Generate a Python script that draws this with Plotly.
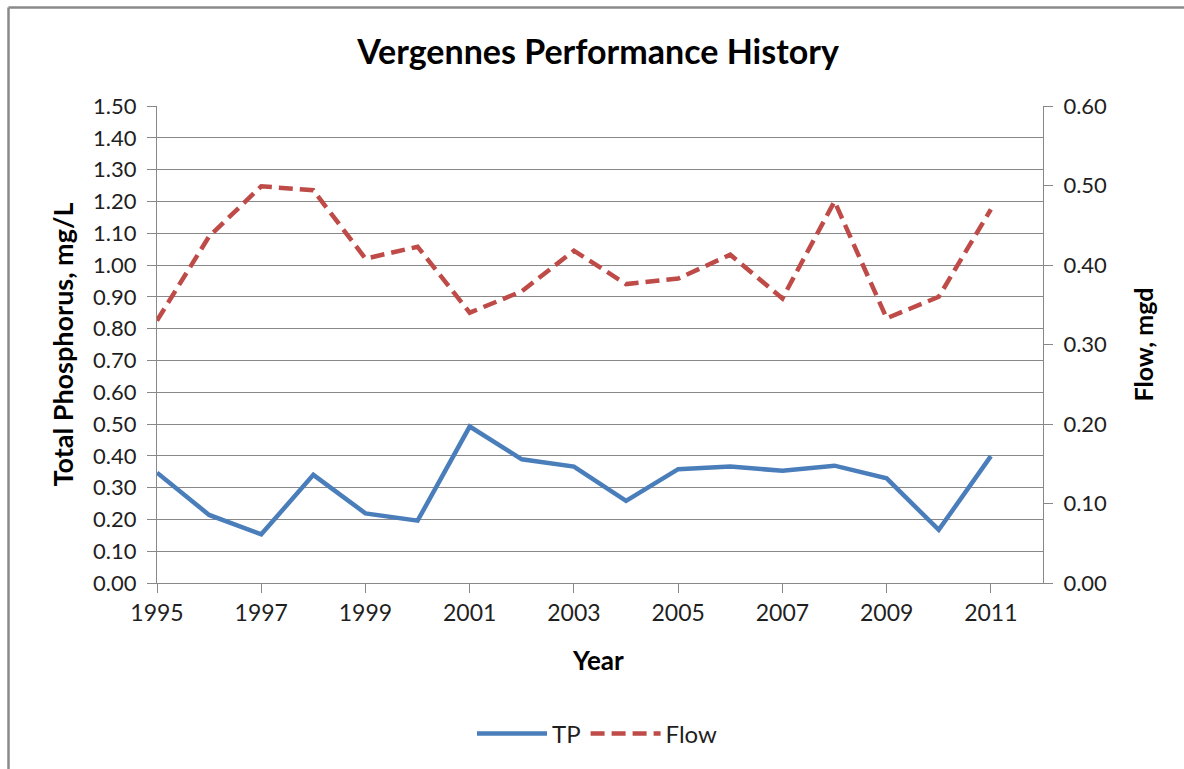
import plotly.graph_objects as go

# Annual data
years = list(range(1995, 2012))
tp_mg_l = [0.347, 0.214, 0.153, 0.340, 0.219, 0.196, 0.492, 0.389, 0.366,
           0.258, 0.358, 0.366, 0.353, 0.369, 0.329, 0.167, 0.399]
flow_mgd = [0.330, 0.436, 0.499, 0.494, 0.408, 0.423, 0.340, 0.367, 0.418,
            0.376, 0.383, 0.413, 0.358, 0.480, 0.333, 0.360, 0.470]

left_ticks = [round(i * 0.1, 2) for i in range(16)]
right_ticks = [round(i * 0.1, 2) for i in range(7)]
year_ticks = list(range(1995, 2012, 2))

FONT = "Lato"
GRID = "#888888"
TXT = "#1f1f1f"

W, H = 1184, 769
L, R, T, B = 157, 1043, 106, 583


def px_x(x):
    return (x - L) / (R - L)


def px_y(y):
    return (B - y) / (B - T)


fig = go.Figure()
fig.add_trace(go.Scatter(
    x=years, y=tp_mg_l, name="TP", mode="lines",
    line=dict(color="#4A7EBB", width=4.5),
))
fig.add_trace(go.Scatter(
    x=years, y=flow_mgd, name="Flow", mode="lines", yaxis="y2",
    line=dict(color="#BE4B48", width=4.5, dash="14px,7px"),
))

fig.update_layout(
    width=W, height=H,
    margin=dict(l=L, r=W - R, t=T, b=H - B),
    paper_bgcolor="white", plot_bgcolor="white",
    font=dict(family=FONT, color=TXT, size=22),
    title=dict(
        text="<b>Vergennes Performance History</b>",
        x=(598 / W), xanchor="center", y=1 - 52 / H, yanchor="middle",
        yref="container", font=dict(family=FONT, size=34, color="black"),
    ),
    xaxis=dict(
        range=[1995, 2012], tickvals=year_ticks, ticktext=[str(y) for y in year_ticks],
        showgrid=False, zeroline=False, showline=True, linecolor=GRID, linewidth=1,
        ticks="outside", ticklen=9, tickcolor=GRID, tickfont=dict(size=23, color=TXT),
    ),
    yaxis=dict(
        range=[0, 1.5], tickvals=left_ticks, ticktext=[f"{v:.2f}" for v in left_ticks],
        showgrid=True, gridcolor=GRID, gridwidth=1, zeroline=False,
        showline=True, linecolor=GRID, linewidth=1,
        ticks="outside", ticklen=9, tickcolor=GRID, tickfont=dict(size=22, color=TXT),
        ticklabelstandoff=6,
    ),
    yaxis2=dict(
        range=[0, 0.6], tickvals=right_ticks, ticktext=[f"{v:.2f}" for v in right_ticks],
        overlaying="y", side="right", showgrid=False, zeroline=False,
        showline=True, linecolor=GRID, linewidth=1,
        ticks="outside", ticklen=9, tickcolor=GRID, tickfont=dict(size=22, color=TXT),
        ticklabelstandoff=6,
    ),
    legend=dict(
        orientation="h", x=px_x(472), xanchor="left", y=px_y(734), yanchor="middle",
        font=dict(size=24, color=TXT), itemwidth=70, bgcolor="rgba(0,0,0,0)",
    ),
    showlegend=True,
)

# Axis titles
fig.add_annotation(text="<b>Total Phosphorus, mg/L</b>", xref="paper", yref="paper",
                   x=px_x(62), y=0.5, textangle=-90, showarrow=False,
                   font=dict(size=27, color="black"), xanchor="center", yanchor="middle")
fig.add_annotation(text="<b>Flow, mgd</b>", xref="paper", yref="paper",
                   x=px_x(1142), y=0.5, textangle=-90, showarrow=False,
                   font=dict(size=25, color="black"), xanchor="center", yanchor="middle")
fig.add_annotation(text="<b>Year</b>", xref="paper", yref="paper",
                   x=px_x(598), y=px_y(660), showarrow=False,
                   font=dict(size=26, color="black"), xanchor="center", yanchor="middle")

# Chart frame: only the left and top edges fall inside the page
frame = dict(color="#8a8a8a", width=2.5)
fig.add_shape(type="line", xref="paper", yref="paper",
              x0=px_x(8.5), x1=px_x(8.5), y0=px_y(H + 5), y1=px_y(7.5), line=frame)
fig.add_shape(type="line", xref="paper", yref="paper",
              x0=px_x(8.5), x1=px_x(W + 5), y0=px_y(7.5), y1=px_y(7.5), line=frame)

fig.write_html("out.html")
